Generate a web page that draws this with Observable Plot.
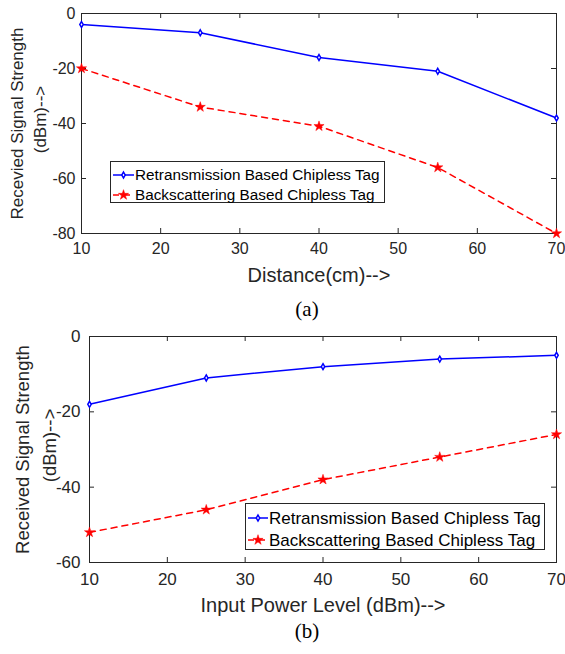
<!DOCTYPE html>
<html>
<head>
<meta charset="utf-8">
<script src="https://cdn.jsdelivr.net/npm/d3@7"></script>
<script src="https://cdn.jsdelivr.net/npm/@observablehq/plot@0.6"></script>
<style>
  html, body { margin: 0; padding: 0; background: #fff; }
  #root { position: relative; width: 565px; height: 654px; font-family: "Liberation Sans", Arial, sans-serif; }
  #root svg { position: absolute; left: 0; overflow: visible; }
  .legend { position: absolute; background: #fff; border: 1px solid #262626; box-sizing: border-box; }
  .legend .row { position: absolute; left: 0; white-space: nowrap; color: #000; }
  .legend .row svg { position: absolute; left: 0; top: 0; }
  .caption { position: absolute; font-family: "Liberation Serif", "Times New Roman", serif; font-size: 21px; color: #000; transform: translate(-50%, -50%); }
</style>
</head>
<body>
<div id="root"></div>
<script>
// ---- data ----
const distance = [10, 25, 40, 55, 70];
const retransA = [-4, -7, -16, -21, -38];
const backscatterA = [-20, -34, -41, -56, -80];

const inputPower = [10, 25, 40, 55, 70];
const retransB = [-18, -11, -8, -6, -5];
const backscatterB = [-52, -46, -38, -32, -26];

const xTicks = [10, 20, 30, 40, 50, 60, 70];
const yTicksA = [0, -20, -40, -60, -80];
const yTicksB = [0, -20, -40, -60];

const seriesNames = ["Retransmission Based Chipless Tag", "Backscattering Based Chipless Tag"];
const xLabelA = "Distance(cm)-->";
const xLabelB = "Input Power Level (dBm)-->";
const yLabelA = ["Recevied Signal Strength", "(dBm)-->"];
const yLabelB = ["Received Signal Strength", "(dBm)-->"];
const captions = ["(a)", "(b)"];

const BLUE = "#0000ff", RED = "#ff0000", AX = "#262626";
const rDiamond = 1.8, rStar = 3.2;
const DASH = "6,5";

const root = document.getElementById("root");

function panel(o) {
  const W = 565;
  const plotW = W - o.ml - o.mr;
  const plotH = o.height - o.mt - o.mb;
  const rowsR = o.xs.map((x, i) => ({x, y: o.r[i]}));
  const rowsB = o.xs.map((x, i) => ({x, y: o.b[i]}));
  const svg = Plot.plot({
    width: W, height: o.height,
    marginLeft: o.ml, marginRight: o.mr, marginTop: o.mt, marginBottom: o.mb,
    style: {fontFamily: "Liberation Sans, Arial, sans-serif", background: "transparent", overflow: "visible"},
    x: {domain: [10, 70]},
    y: {domain: o.ydomain},
    marks: [
      Plot.frame({stroke: AX, strokeWidth: 1}),
      // inward ticks
      Plot.tickX(xTicks, {x: d => d, stroke: AX, insetTop: plotH - 5}),
      Plot.tickX(xTicks, {x: d => d, stroke: AX, insetBottom: plotH - 5}),
      Plot.tickY(o.yTicks, {y: d => d, stroke: AX, insetRight: plotW - 5}),
      Plot.tickY(o.yTicks, {y: d => d, stroke: AX, insetLeft: plotW - 5}),
      Plot.axisX({ticks: xTicks, tickSize: 0, tickPadding: o.xPad, fontSize: o.tickFont, color: AX, tickFormat: d => String(d), label: null}),
      Plot.axisY({ticks: o.yTicks, tickSize: 0, tickPadding: o.yPad, fontSize: o.tickFont, color: AX, tickFormat: d => String(d), label: null}),
      Plot.text([o.xLabel], {text: d => d, frameAnchor: "bottom", dy: o.xLabelDy, lineAnchor: "middle", fontSize: o.xLabelFont, fill: AX}),
      Plot.text([o.yLabel[0]], {text: d => d, frameAnchor: "left", dx: o.yDx[0], rotate: -90, lineAnchor: "middle", textAnchor: "middle", fontSize: o.yLabelFont, fill: AX}),
      Plot.text([o.yLabel[1]], {text: d => d, frameAnchor: "left", dx: o.yDx[1], dy: o.y2Dy, rotate: -90, lineAnchor: "middle", textAnchor: "middle", fontSize: o.yLabelFont, fill: AX}),
      Plot.line(rowsR, {x: "x", y: "y", stroke: BLUE, strokeWidth: 1.5}),
      Plot.line(rowsB, {x: "x", y: "y", stroke: RED, strokeWidth: 1.5, strokeDasharray: DASH}),
      Plot.dot(rowsR, {x: "x", y: "y", symbol: "diamond", r: rDiamond, stroke: BLUE, fill: "white", strokeWidth: 1.5}),
      Plot.dot(rowsB, {x: "x", y: "y", symbol: "star", r: rStar, fill: RED, stroke: RED, strokeWidth: 0.5})
    ]
  });
  svg.style.top = o.top + "px";
  root.appendChild(svg);
}

panel({top: 0, height: 290, ml: 81, mr: 9, mt: 13, mb: 57, xs: distance, r: retransA, b: backscatterA,
  ydomain: [-80, 0], yTicks: yTicksA, xPad: 9, yPad: 6, tickFont: 16,
  xLabel: xLabelA, xLabelDy: 42, xLabelFont: 20, yLabel: yLabelA, yDx: [-63.5, -41], y2Dy: -4, yLabelFont: 17});

panel({top: 320, height: 300, ml: 89, mr: 9, mt: 16, mb: 58, xs: inputPower, r: retransB, b: backscatterB,
  ydomain: [-60, 0], yTicks: yTicksB, xPad: 10, yPad: 9, tickFont: 17,
  xLabel: xLabelB, xLabelDy: 43, xLabelFont: 20, yLabel: yLabelB, yDx: [-66.5, -39], y2Dy: -4, yLabelFont: 18.5});

// ---- legends ----
function swatch(color, dashed, symbol, r, fillMarker, lineW) {
  const ns = "http://www.w3.org/2000/svg";
  const s = document.createElementNS(ns, "svg");
  s.setAttribute("width", lineW); s.setAttribute("height", 14);
  const l = document.createElementNS(ns, "line");
  l.setAttribute("x1", 0); l.setAttribute("x2", lineW); l.setAttribute("y1", 7); l.setAttribute("y2", 7);
  l.setAttribute("stroke", color); l.setAttribute("stroke-width", 1.5);
  if (dashed) l.setAttribute("stroke-dasharray", DASH);
  s.appendChild(l);
  const p = document.createElementNS(ns, "path");
  p.setAttribute("d", d3.symbol(symbol, Math.PI * r * r)());
  p.setAttribute("transform", `translate(${lineW / 2},7)`);
  p.setAttribute("fill", fillMarker ? color : "white");
  p.setAttribute("stroke", color);
  p.setAttribute("stroke-width", fillMarker ? 0.5 : 1.5);
  s.appendChild(p);
  return s;
}

function legend(o) {
  const box = document.createElement("div");
  box.className = "legend";
  Object.assign(box.style, {left: o.left + "px", top: o.top + "px", width: o.width + "px", height: o.height + "px"});
  seriesNames.forEach((name, i) => {
    const row = document.createElement("div");
    row.className = "row";
    row.style.top = (o.rowY[i] - o.top - 7) + "px";
    row.style.height = "14px";
    row.style.width = (o.width - 2) + "px";
    const sw = i === 0 ? swatch(BLUE, false, d3.symbolDiamond, rDiamond, false, o.lineW)
                       : swatch(RED, true, d3.symbolStar, rStar, true, o.lineW);
    sw.style.left = o.lineX + "px";
    row.appendChild(sw);
    const t = document.createElement("span");
    t.textContent = name;
    Object.assign(t.style, {position: "absolute", left: o.textX + "px", top: "7px", transform: "translateY(-50%)", fontSize: o.font + "px", lineHeight: "1"});
    row.appendChild(t);
    box.appendChild(row);
  });
  root.appendChild(box);
}

legend({left: 110, top: 161, width: 275, height: 42, rowY: [173.5, 193.5], lineX: 2, lineW: 21, textX: 24, font: 15.3});
legend({left: 245, top: 503, width: 300, height: 47, rowY: [516.5, 538.5], lineX: 2, lineW: 20, textX: 23, font: 17});

// ---- captions ----
[[307, 309], [307, 631]].forEach(([x, y], i) => {
  const c = document.createElement("div");
  c.className = "caption";
  c.textContent = captions[i];
  c.style.left = x + "px"; c.style.top = y + "px";
  root.appendChild(c);
});
</script>
</body>
</html>
